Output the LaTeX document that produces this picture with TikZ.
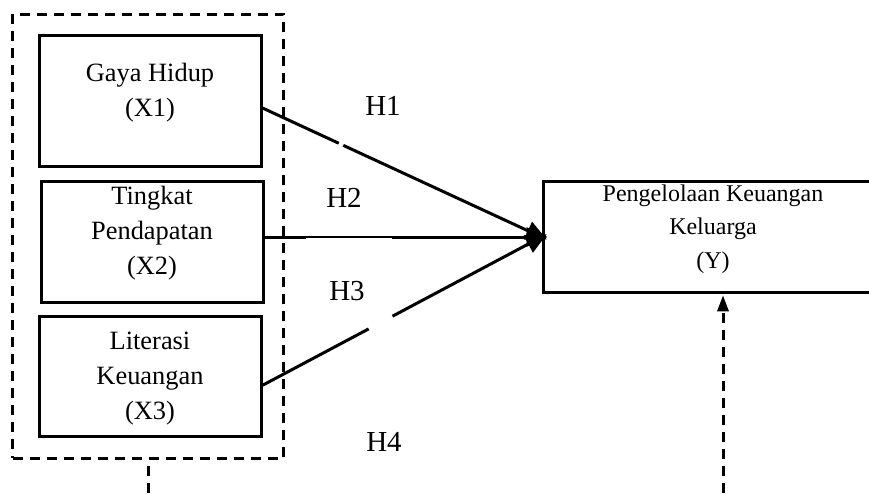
\documentclass[tikz,border=0pt]{standalone}
\usepackage{fontspec}
\setmainfont{Liberation Serif}
\usetikzlibrary{arrows.meta,calc}
\begin{document}
\begin{tikzpicture}[x=1pt,y=-1pt,
  varbox/.style={draw, line width=3pt, inner sep=0pt},
  vartext/.style={align=center, inner sep=0pt, font=\fontsize{26.4}{35}\selectfont},
  ytext/.style={align=center, inner sep=0pt, font=\fontsize{24}{33.5}\selectfont},
  hyp/.style={inner sep=0pt, font=\fontsize{29}{30}\selectfont},
  grpline/.style={line width=3pt, dash pattern=on 10pt off 7pt},
  link/.style={line width=3pt, shorten >=-6pt, -{Triangle[length=21pt,width=19pt]}}
]
\useasboundingbox (0,0) rectangle (869,493);

% dashed frame around the independent variables
\node[grpline, draw, inner sep=0pt, minimum width=271pt, minimum height=444pt] (grp) at (148,236.3) {};

% independent variables
\node[varbox, minimum width=222pt, minimum height=131pt] (x1) at (150,100.5) {};
\node[vartext] (t1) at (150,93) {Gaya Hidup\\(X1)};

\node[varbox, minimum width=222pt, minimum height=120.6pt] (x2) at (152.2,242) {};
\node[vartext] (t2) at (152,233) {Tingkat\\Pendapatan\\(X2)};

\node[varbox, minimum width=222pt, minimum height=120pt] (x3) at (150.2,376.7) {};
\node[vartext] (t3) at (150,379) {Literasi\\Keuangan\\(X3)};

% dependent variable (runs off the right edge)
\node[varbox, minimum width=337pt, minimum height=110.5pt] (y) at (711.5,237) {};
\node[ytext] (ty) at (713,229) {Pengelolaan Keuangan\\Keluarga\\(Y)};

% hypothesis arrows
\draw[link, dash pattern=on 84pt off 5pt on 1000pt] ($(x1.east)+(0,7.5)$) -- (y.west);
\draw[line width=1.8pt] (x2.east |- y.west) -- (y.west);
\draw[link, dash pattern=on 41pt off 86pt on 1000pt] (x2.east |- y.west) -- (y.west);
\draw[link, dash pattern=on 120pt off 27pt on 1000pt] ($(x3.east)+(0,8.5)$) -- (y.west);

% hypothesis labels
\node[hyp] (h1) at (383,106) {H1};
\node[hyp] (h2) at (344,198) {H2};
\node[hyp] (h3) at (347,291) {H3};
\node[hyp] (h4) at (384,442) {H4};

% simultaneous path (dashed)
\coordinate (gfoot) at (148,493);
\coordinate (yfoot) at (723,493);
\draw[grpline] (gfoot) -- (grp.south);
\draw[grpline, shorten >=1.5pt, -{Triangle[length=16pt,width=11pt]}] (yfoot) -- (yfoot |- y.south);
\end{tikzpicture}
\end{document}
